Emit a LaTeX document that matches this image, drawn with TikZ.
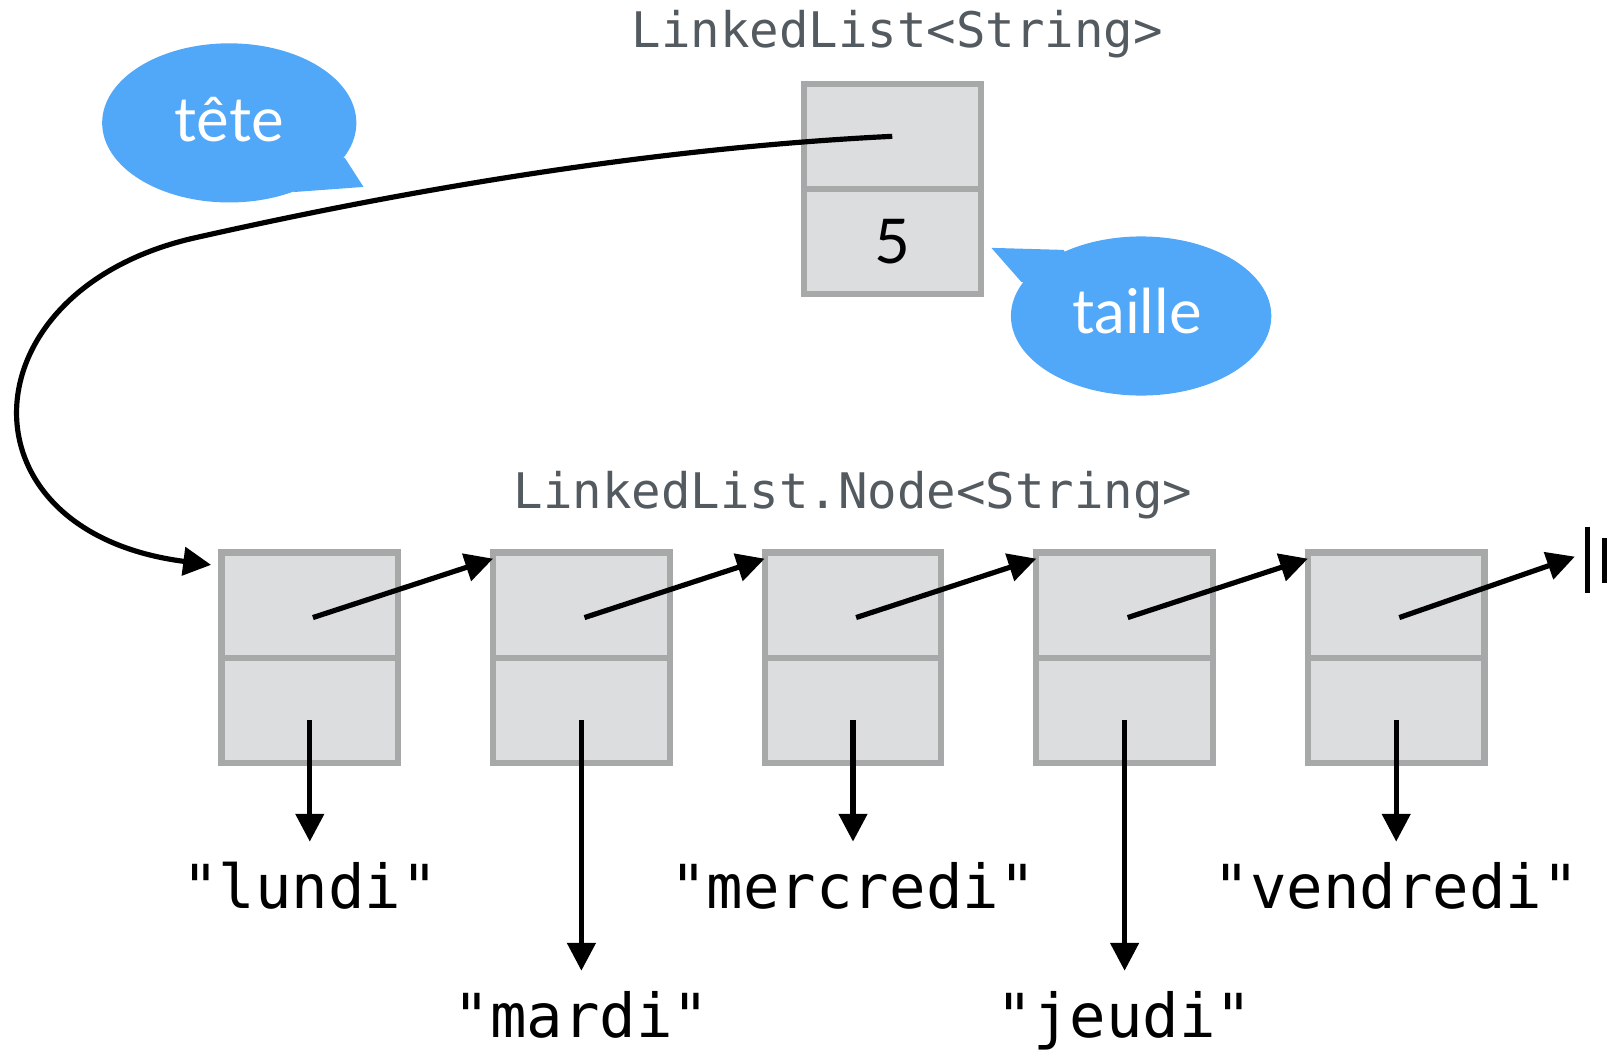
\documentclass[tikz,border=0pt]{standalone}
\usepackage{fontspec}
\setmainfont{Lato}
\setmonofont{DejaVu Sans Mono}
\usetikzlibrary{arrows.meta}
\definecolor{cellgray}{HTML}{DCDDDF}
\definecolor{cellborder}{HTML}{A6A9A8}
\definecolor{bubble}{HTML}{52A8F8}
\definecolor{typegray}{HTML}{535A60}

\begin{document}
\begin{tikzpicture}[x=0.01cm,y=-0.01cm,
  cell/.style={draw=cellborder,fill=cellgray,line width=0.06cm,minimum width=1.71cm,minimum height=1.02cm,inner sep=0pt,outer sep=0pt},
  ptr/.style={line width=0.05cm,-{Triangle[length=0.27cm,width=0.27cm]}},
  val/.style={font=\ttfamily\fontsize{16.7}{20}\selectfont,anchor=north,inner sep=0.19cm},
  typ/.style={font=\ttfamily\fontsize{13.5}{16}\selectfont,text=typegray,anchor=base},
  say/.style={font=\fontsize{17}{20}\selectfont,text=white,anchor=base}]
\useasboundingbox (0,0) rectangle (1560,1018);

% bulles
\fill[bubble] (222,119) ellipse (1.23cm and 0.77cm);
\fill[bubble] (300,150) -- (334,153) -- (352,181) -- (284,186) -- cycle;
\fill[bubble] (1105,306) ellipse (1.26cm and 0.77cm);
\fill[bubble] (1050,280) -- (1030,242) -- (960,240) -- (989,273) -- cycle;
\node[say] (tete) at (222,137) {tête};
\node[say] (taille) at (1101,323) {taille};

% la liste
\node[typ] (listtype) at (869,46) {LinkedList<String>};
\node[cell] (head) at (864,132) {};
\node[cell,font=\fontsize{17}{20}\selectfont] (size) at (864,234) {5};

% les noeuds
\node[typ] (nodetype) at (826,492) {LinkedList.Node<String>};
\foreach \i in {1,...,5} {
  \node[cell] (top\i) at ({300+263*(\i-1)},586) {};
  \node[cell] (bot\i) at ({300+263*(\i-1)},688) {};
}
\node[val] (v1) at (300,815) {"lundi"};
\node[val] (v2) at (563,940) {"mardi"};
\node[val] (v3) at (826,815) {"mercredi"};
\node[val] (v4) at (1089,940) {"jeudi"};
\node[val] (v5) at (1352,815) {"vendredi"};
\coordinate (nil) at (1525,539);

\draw[ptr] (head.center) .. controls (600,145) and (350,194) .. (190,230)
  .. controls (-35,280) and (-45,515) .. ([xshift=-0.1cm,yshift=-0.12cm]top1.north west);
\foreach \i/\j in {1/2,2/3,3/4,4/5}
  \draw[ptr] ([xshift=0.03cm,yshift=-0.12cm]top\i.center) -- ([yshift=-0.06cm]top\j.north west);
\draw[ptr] ([xshift=0.03cm,yshift=-0.12cm]top5.center) -- (nil);
\foreach \i in {1,...,5}
  \draw[ptr] ([yshift=-0.09cm]bot\i.center) -- (v\i.north);

% null
\draw[line width=0.05cm] (1537,510) -- (1537,574);
\draw[line width=0.05cm] (1554,521) -- (1554,565);
\end{tikzpicture}
\end{document}
